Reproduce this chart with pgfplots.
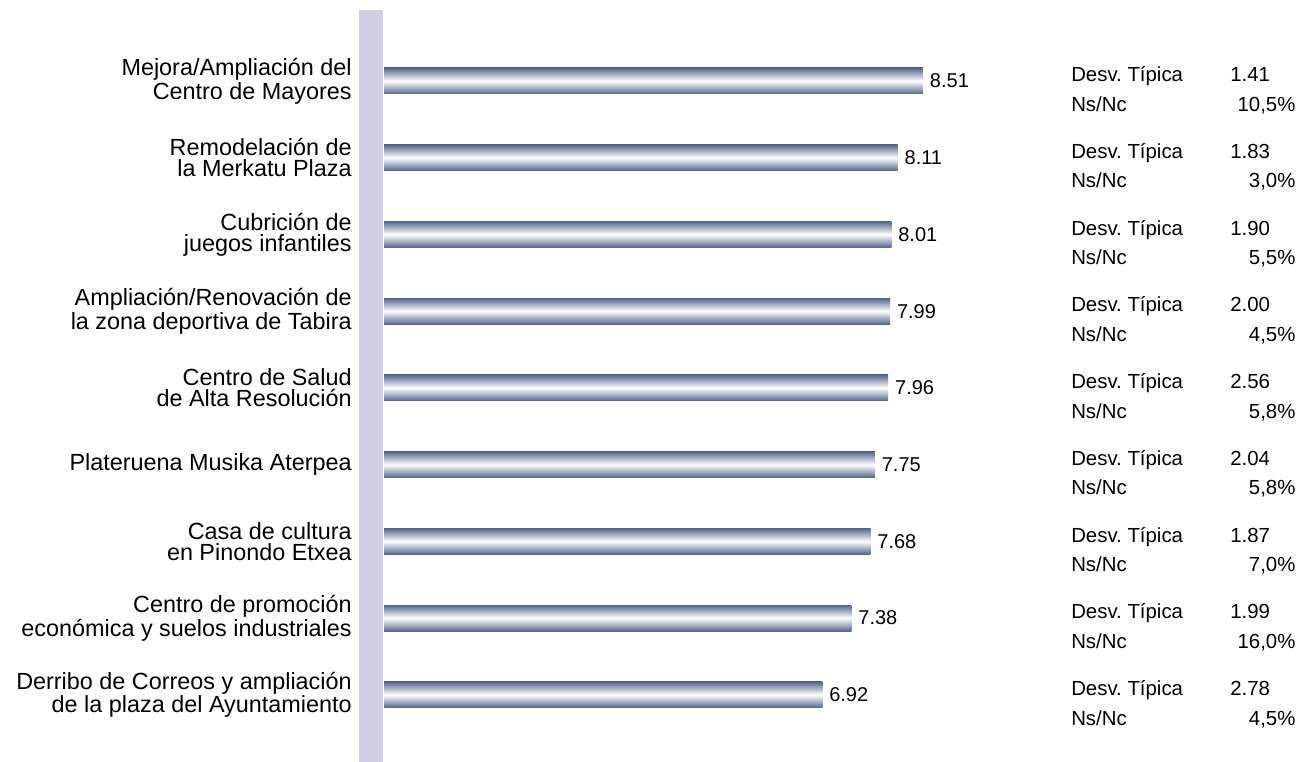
\documentclass[border=0pt]{standalone}
\usepackage{pgfplots}
\pgfplotsset{compat=1.18}
\usepackage{fontspec}
\setmainfont{Liberation Sans}
\frenchspacing
\definecolor{bandcol}{HTML}{D1CEE6}
\definecolor{barcol}{HTML}{56668C}
\pgfplotsset{gbar/.style={xbar, bar width=13pt, bar shift=0pt, draw=none,
  top color=barcol, bottom color=barcol, middle color=white,
  nodes near coords, point meta=explicit symbolic,
  every node near coord/.append style={anchor=west, font=\fontsize{10}{11}\selectfont}}}
\begin{document}
\begin{tikzpicture}[font=\fontsize{10.2}{11}\selectfont]
\begin{axis}[
  scale only axis, width=654pt, height=381pt,
  xmin=-6.062, xmax=14.588,
  ymin=-0.055, ymax=9.873, y dir=reverse,
  axis line style={draw=none},
  xtick=\empty,
  ytick={1,2,3,4,5,6,7,8,9},
  major tick length=0pt,
  yticklabels={
    {Mejora/Ampliación del\\Centro de Mayores},
    {Remodelación de\\la Merkatu Plaza},
    {Cubrición de\\juegos infantiles},
    {Ampliación/Renovación de\\la zona deportiva de Tabira},
    {Centro de Salud\\de Alta Resolución},
    {Plateruena Musika Aterpea},
    {Casa de cultura\\en Pinondo Etxea},
    {Centro de promoción\\económica y suelos industriales},
    {Derribo de Correos y ampliación\\de la plaza del Ayuntamiento}},
  yticklabel style={align=right, anchor=east, xshift=176pt, inner sep=0pt, font=\fontsize{11.7}{10.5}\selectfont},
  clip=false,
  /pgf/number format/assume math mode=true,
]
\path (rel axis cs:0,0) rectangle (rel axis cs:1,1);
\fill[bandcol] (axis cs:-0.395,0.075) rectangle (axis cs:-0.016,9.873);
\addplot[gbar] coordinates {(8.51,1)[8.51]};
\addplot[gbar] coordinates {(8.11,2)[8.11]};
\addplot[gbar] coordinates {(8.01,3)[8.01]};
\addplot[gbar] coordinates {(7.99,4)[7.99]};
\addplot[gbar] coordinates {(7.96,5)[7.96]};
\addplot[gbar] coordinates {(7.75,6)[7.75]};
\addplot[gbar] coordinates {(7.68,7)[7.68]};
\addplot[gbar] coordinates {(7.38,8)[7.38]};
\addplot[gbar] coordinates {(6.92,9)[6.92]};
% Desv. Tipica labels
\addplot[only marks, mark=none, nodes near coords, point meta=explicit symbolic,
  nodes near coords align={anchor=base west},
  every node near coord/.append style={anchor=base west, inner sep=0pt}]
coordinates {(10.846,1.01)[Desv. Típica] (10.846,2.01)[Desv. Típica] (10.846,3.01)[Desv. Típica]
  (10.846,4.01)[Desv. Típica] (10.846,5.01)[Desv. Típica] (10.846,6.01)[Desv. Típica]
  (10.846,7.01)[Desv. Típica] (10.846,8.01)[Desv. Típica] (10.846,9.01)[Desv. Típica]
  (10.846,1.395)[Ns/Nc] (10.846,2.395)[Ns/Nc] (10.846,3.395)[Ns/Nc]
  (10.846,4.395)[Ns/Nc] (10.846,5.395)[Ns/Nc] (10.846,6.395)[Ns/Nc]
  (10.846,7.395)[Ns/Nc] (10.846,8.395)[Ns/Nc] (10.846,9.395)[Ns/Nc]};
% Desv values
\addplot[only marks, mark=none, nodes near coords, point meta=explicit symbolic,
  nodes near coords align={anchor=base west},
  every node near coord/.append style={anchor=base west, inner sep=0pt}]
coordinates {(13.357,1.01)[1.41] (13.357,2.01)[1.83] (13.357,3.01)[1.90]
  (13.357,4.01)[2.00] (13.357,5.01)[2.56] (13.357,6.01)[2.04]
  (13.357,7.01)[1.87] (13.357,8.01)[1.99] (13.357,9.01)[2.78]};
% Ns/Nc values
\addplot[only marks, mark=none, nodes near coords, point meta=explicit symbolic,
  nodes near coords align={anchor=base east},
  every node near coord/.append style={anchor=base east, inner sep=0pt}]
coordinates {(14.399,1.395)[10,5\%] (14.399,2.395)[3,0\%] (14.399,3.395)[5,5\%]
  (14.399,4.395)[4,5\%] (14.399,5.395)[5,8\%] (14.399,6.395)[5,8\%]
  (14.399,7.395)[7,0\%] (14.399,8.395)[16,0\%] (14.399,9.395)[4,5\%]};
\end{axis}
\end{tikzpicture}
\end{document}
